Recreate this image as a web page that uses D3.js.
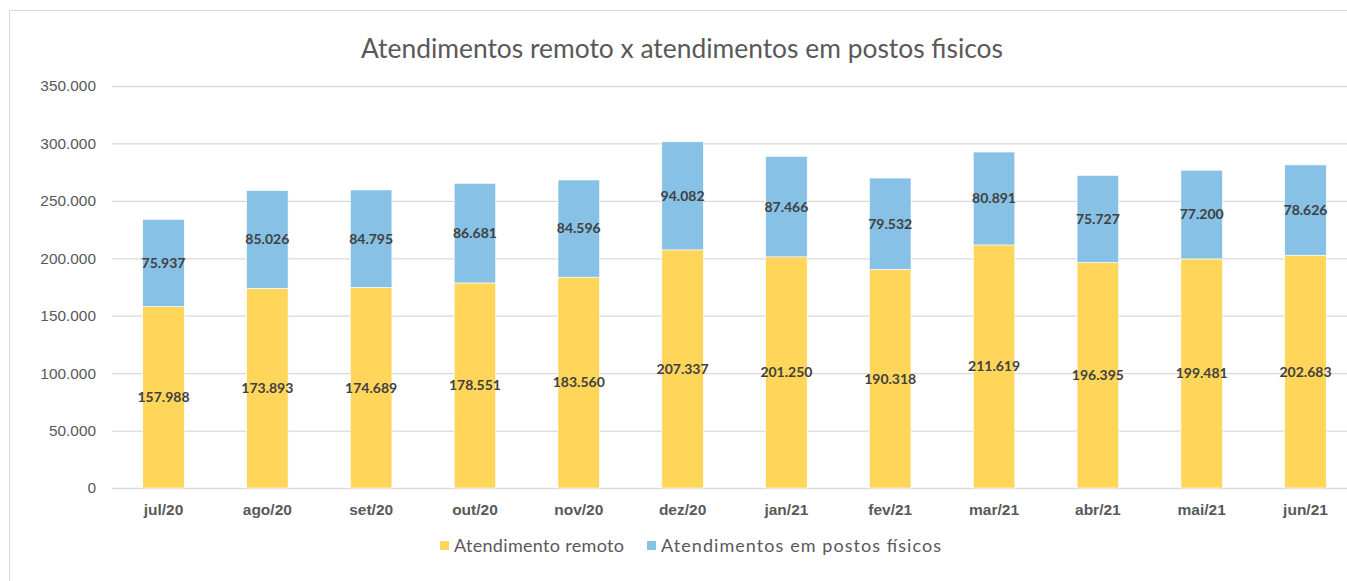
<!DOCTYPE html>
<html>
<head>
<meta charset="utf-8">
<script src="https://cdn.jsdelivr.net/npm/d3@7"></script>
<style>
  html, body { margin: 0; padding: 0; background: #fff; overflow: hidden; }
  svg { display: block; font-family: Lato, "Open Sans", sans-serif; }
</style>
</head>
<body>
<div id="chart"></div>
<script>
// Data
const months = ['jul/20', 'ago/20', 'set/20', 'out/20', 'nov/20', 'dez/20',
                'jan/21', 'fev/21', 'mar/21', 'abr/21', 'mai/21', 'jun/21'];
const remoto = [157988, 173893, 174689, 178551, 183560, 207337,
                201250, 190318, 211619, 196395, 199481, 202683];
const fisicos = [75937, 85026, 84795, 86681, 84596, 94082,
                 87466, 79532, 80891, 75727, 77200, 78626];
const yTicks = [0, 50000, 100000, 150000, 200000, 250000, 300000, 350000];
const seriesNames = ['Atendimento remoto', 'Atendimentos em postos físicos'];
const chartTitle = 'Atendimentos remoto x atendimentos em postos fisicos';

const width = 1347;
const height = 581;
const colors = ['#FFD65A', '#87C1E6'];

const fmt = v => v === 0 ? '0' : d3.format(',')(v).replace(/,/g, '.');

const svg = d3.select('#chart')
    .append('svg')
    .attr('width', width)
    .attr('height', height);

// chart frame (only left/top visible in the crop)
svg.append('rect')
    .attr('x', 9.5)
    .attr('y', 10.5)
    .attr('width', 1360)
    .attr('height', 600)
    .attr('fill', 'none')
    .attr('stroke', '#d9d9d9')
    .attr('stroke-width', 1);

const x = d3.scaleBand()
    .domain(months)
    .range([111.6, 1357.4])
    .paddingInner(0.6)
    .paddingOuter(0.3);

const y = d3.scaleLinear()
    .domain([0, 350000])
    .range([488, 86]);

// gridlines
const yAxis = d3.axisLeft(y)
    .tickValues(yTicks)
    .tickSize(-(1357 - 112))
    .tickPadding(16)
    .tickFormat(fmt);

svg.append('g')
    .attr('class', 'y-axis')
    .attr('transform', 'translate(112,0)')
    .call(yAxis)
    .call(g => g.select('.domain').remove())
    .call(g => g.selectAll('line').attr('stroke', '#d9d9d9').attr('stroke-width', 1.3))
    .call(g => g.selectAll('text')
        .attr('fill', '#595959')
        .attr('font-size', '15.4px'));

// stacked bars
const rows = months.map((m, i) => ({ month: m, remoto: remoto[i], fisicos: fisicos[i] }));
const stack = d3.stack().keys(['remoto', 'fisicos'])(rows);

const layers = svg.append('g')
    .selectAll('g')
    .data(stack)
    .join('g')
    .attr('fill', (d, i) => colors[i]);

layers.selectAll('rect')
    .data(d => d)
    .join('rect')
    .attr('x', d => x(d.data.month))
    .attr('y', d => y(d[1]))
    .attr('width', x.bandwidth())
    .attr('height', d => y(d[0]) - y(d[1]))
    .attr('stroke', '#ffffff')
    .attr('stroke-width', 0.6);

// data labels
layers.selectAll('text')
    .data(d => d)
    .join('text')
    .attr('x', d => x(d.data.month) + x.bandwidth() / 2)
    .attr('y', d => y((d[0] + d[1]) / 2))
    .attr('dy', '0.35em')
    .attr('text-anchor', 'middle')
    .attr('fill', '#404040')
    .attr('font-size', '14px')
    .attr('font-weight', 'bold')
    .text(d => fmt(d[1] - d[0]));

// x axis labels
const xAxis = d3.axisBottom(x).tickSize(0).tickPadding(16);
svg.append('g')
    .attr('transform', 'translate(0,488)')
    .call(xAxis)
    .call(g => g.select('.domain').remove())
    .call(g => g.selectAll('text')
        .attr('fill', '#595959')
        .attr('font-size', '15.5px')
        .attr('font-weight', 'bold'));

// title
svg.append('text')
    .attr('x', 682)
    .attr('y', 58)
    .attr('text-anchor', 'middle')
    .attr('fill', '#595959')
    .attr('font-size', '26.4px')
    .text(chartTitle);

// legend
const legendX = [440, 647];
const legendTextLen = [170, 280];
const legend = svg.append('g')
    .selectAll('g')
    .data(seriesNames)
    .join('g')
    .attr('transform', (d, i) => `translate(${legendX[i]},541)`);

legend.append('rect')
    .attr('width', 9)
    .attr('height', 9)
    .attr('fill', (d, i) => colors[i]);

legend.append('text')
    .attr('x', 14)
    .attr('y', 5)
    .attr('dy', '0.35em')
    .attr('fill', '#595959')
    .attr('font-size', '18px')
    .attr('textLength', (d, i) => legendTextLen[i])
    .attr('lengthAdjust', 'spacing')
    .text(d => d);
</script>
</body>
</html>
